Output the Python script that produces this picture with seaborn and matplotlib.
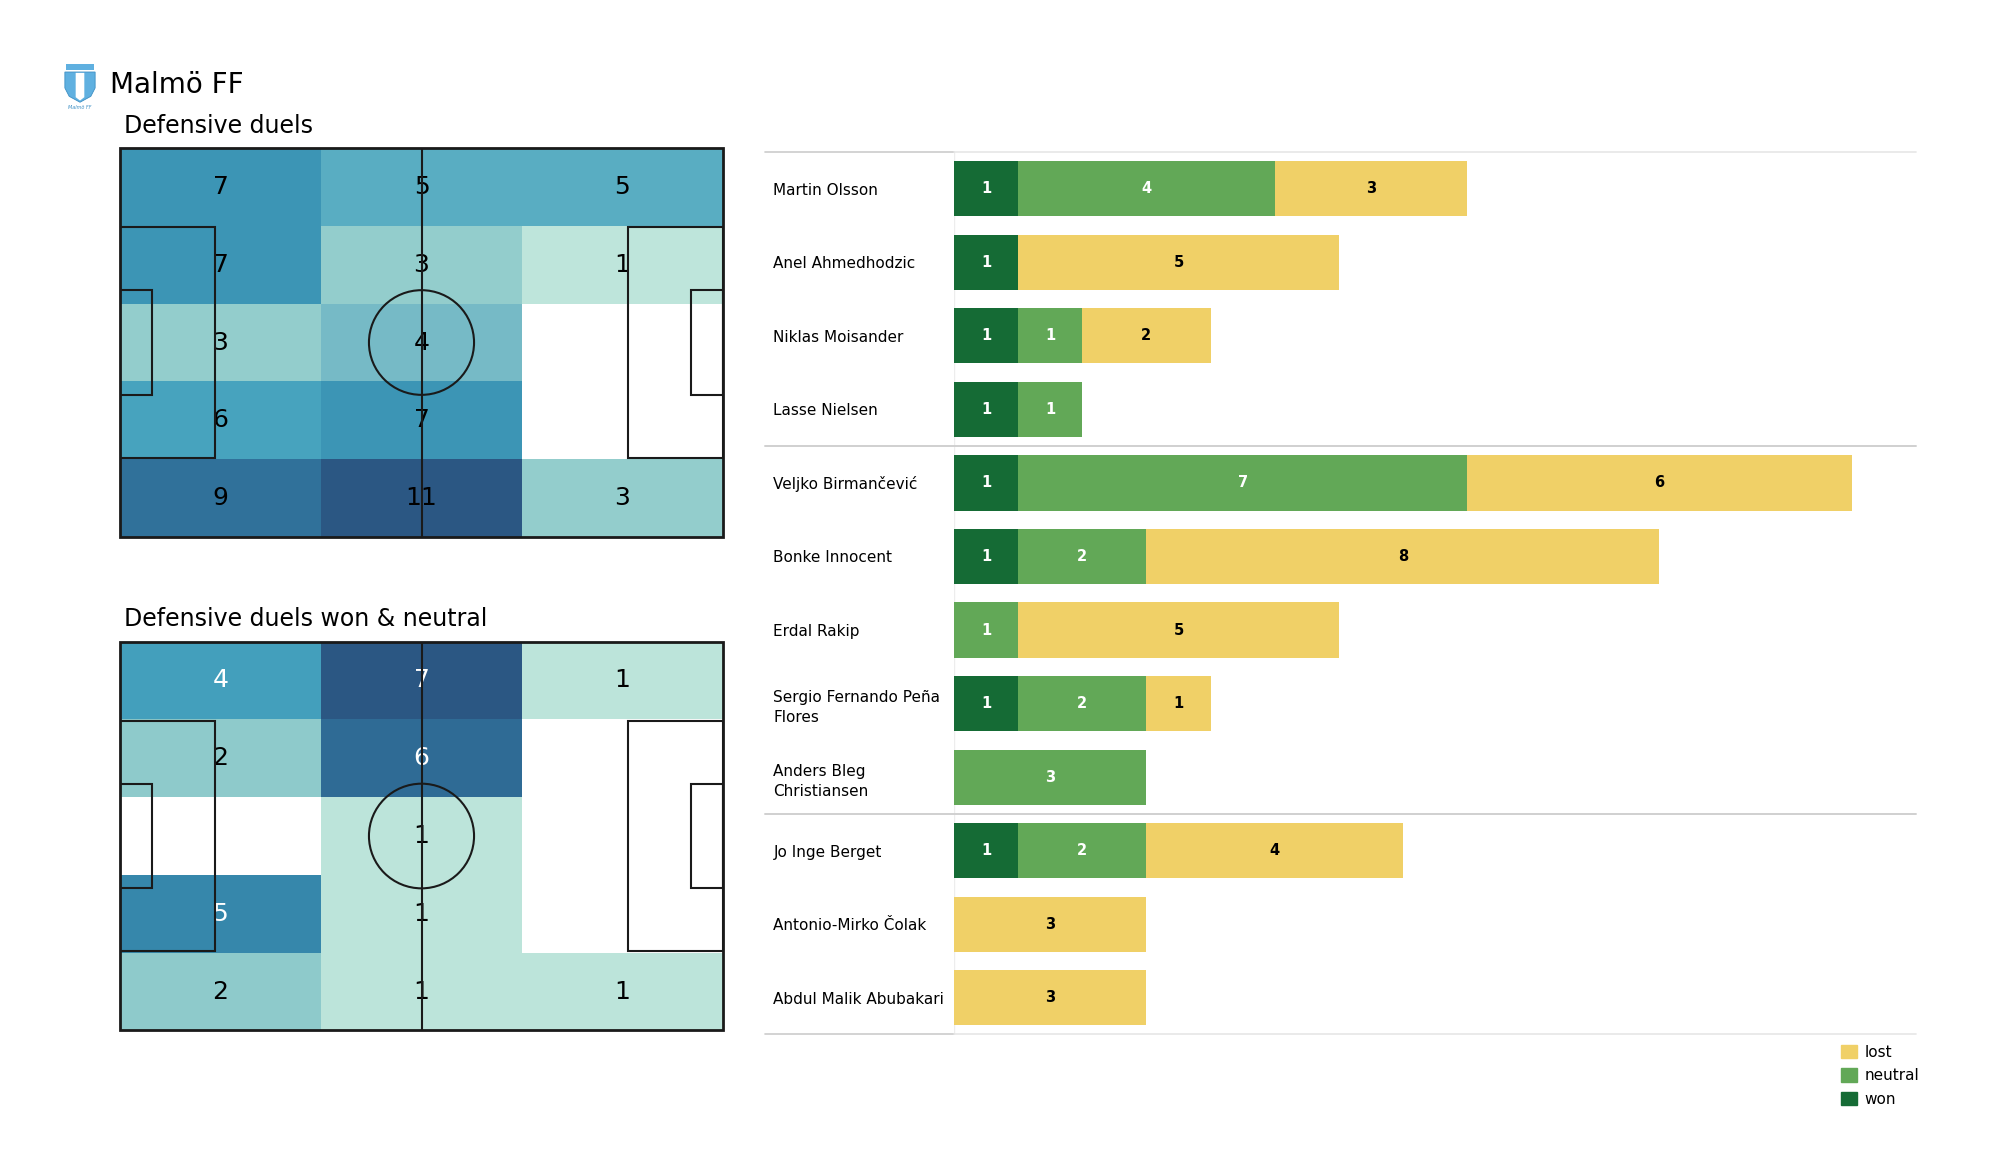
import numpy as np
import pandas as pd
import seaborn as sns
import matplotlib.pyplot as plt
from matplotlib.colors import LinearSegmentedColormap
from matplotlib.patches import Rectangle, Ellipse, Polygon, Patch

sns.set_style("white")
plt.rcParams['font.family'] = ['DejaVu Sans']
plt.rcParams['text.color'] = 'black'
plt.rcParams['ytick.color'] = 'black'
plt.rcParams['axes.labelcolor'] = 'black'

team = "Malmö FF"

# zones on the pitch, rows top -> bottom, columns own third -> final third
duels = [[7, 5, 5],
         [7, 3, 1],
         [3, 4, 0],
         [6, 7, 0],
         [9, 11, 3]]
duels_won_neutral = [[4, 7, 1],
                     [2, 6, 0],
                     [0, 1, 0],
                     [5, 1, 0],
                     [2, 1, 1]]

players = ["Martin Olsson", "Anel Ahmedhodzic", "Niklas Moisander", "Lasse Nielsen",
           "Veljko Birmančević", "Bonke Innocent", "Erdal Rakip",
           "Sergio Fernando Peña\nFlores", "Anders Bleg\nChristiansen",
           "Jo Inge Berget", "Antonio-Mirko Čolak", "Abdul Malik Abubakari"]
won = [1, 1, 1, 1, 1, 1, 0, 1, 0, 1, 0, 0]
neutral = [4, 0, 1, 1, 7, 2, 1, 2, 3, 2, 0, 0]
lost = [3, 5, 2, 0, 6, 8, 5, 1, 0, 4, 3, 3]
group_sizes = [4, 5, 3]   # defenders, midfielders, forwards

won_c = "#156b35"
neutral_c = "#62a857"
lost_c = "#f0d067"

cmap = LinearSegmentedColormap.from_list("zones", [
    (0.0, "#c2e7dd"), (0.14, "#bce4da"), (0.28, "#90cbcb"), (0.36, "#78bbc6"),
    (0.45, "#5aaec2"), (0.56, "#44a1bd"), (0.67, "#3890b2"), (0.82, "#30719a"),
    (1.0, "#2b5783")])

fig = plt.figure(figsize=(20, 11.75), dpi=100)


def draw_pitch(ax):
    L, W = 105, 68
    sx, sy = 3 / L, 5 / W
    c = "#1a1a1a"
    ax.add_patch(Rectangle((0, 0), 3, 5, fill=False, ec=c, lw=2, clip_on=False, zorder=5))
    ax.plot([1.5, 1.5], [0, 5], color=c, lw=1.5, zorder=5)
    ax.add_patch(Ellipse((1.5, 2.5), 2 * 9.15 * sx, 2 * 9.15 * sy, fill=False, ec=c, lw=1.5, zorder=5))
    for x0, d in [(0, 1), (L, -1)]:
        ax.add_patch(Rectangle((x0 * sx, (W / 2 - 20.16) * sy), d * 16.5 * sx, 40.32 * sy,
                               fill=False, ec=c, lw=1.5, zorder=5))
        ax.add_patch(Rectangle((x0 * sx, (W / 2 - 9.16) * sy), d * 5.5 * sx, 18.32 * sy,
                               fill=False, ec=c, lw=1.5, zorder=5))
    for s in ax.spines.values():
        s.set_visible(False)


def zone_map(ax, grid, title, white_from=None):
    arr = np.array(grid)
    sns.heatmap(arr, ax=ax, cmap=cmap, vmin=0, vmax=arr.max(), mask=arr == 0,
                annot=True, fmt="d", cbar=False, xticklabels=False, yticklabels=False,
                annot_kws={"fontsize": 18, "color": "black"}, linewidths=0)
    if white_from is not None:
        for t in ax.texts:
            if int(t.get_text()) >= white_from:
                t.set_color("white")
    draw_pitch(ax)
    ax.set_title(title, loc="left", fontsize=17, pad=11, x=0.006)


ax1 = fig.add_axes([0.06, 0.543, 0.3015, 0.331])
zone_map(ax1, duels, "Defensive duels")
ax2 = fig.add_axes([0.06, 0.123, 0.3015, 0.331])
zone_map(ax2, duels_won_neutral, "Defensive duels won & neutral", white_from=4)

# team header with a simple crest
fig.text(0.055, 0.928, team, fontsize=20, va="center")
lax = fig.add_axes([0.031, 0.903, 0.018, 0.05])
lax.set_xlim(0, 1)
lax.set_ylim(0, 1.4)
lax.axis("off")
lax.add_patch(Polygon([[0.08, 1.0], [0.92, 1.0], [0.92, 0.62], [0.8, 0.42], [0.5, 0.28],
                       [0.2, 0.42], [0.08, 0.62]], closed=True, fc="#5fb0e0", ec="#3d8fc4", lw=0.6))
lax.add_patch(Polygon([[0.38, 0.98], [0.62, 0.98], [0.62, 0.4], [0.5, 0.32], [0.38, 0.4]],
                      closed=True, fc="white", ec="none"))
lax.add_patch(Rectangle((0.1, 1.04), 0.8, 0.16, fc="#5fb0e0", ec="none"))
lax.text(0.5, 0.16, "Malmö FF", fontsize=3.5, color="#3d8fc4", ha="center", va="center", style="italic")

# stacked bars
df = pd.DataFrame({"player": players, "won": won, "neutral": neutral, "lost": lost})
df["won_neutral"] = df["won"] + df["neutral"]
df["total"] = df["won_neutral"] + df["lost"]

bx = fig.add_axes([0.477, 0.1196, 0.481, 0.751])
for col, c in [("total", lost_c), ("won_neutral", neutral_c), ("won", won_c)]:
    sns.barplot(data=df, y="player", x=col, order=players, orient="h", color=c,
                saturation=1, width=0.75, linewidth=0, ax=bx)

for i, r in df.iterrows():
    left = 0
    for val, tc in [(r["won"], "white"), (r["neutral"], "white"), (r["lost"], "black")]:
        if val > 0:
            bx.text(left + val / 2, i, str(val), ha="center", va="center",
                    fontsize=10.5, fontweight="bold", color=tc)
        left += val

bx.set_xlim(0, 15)
bx.set_ylim(len(players) - 0.5, -0.5)
bx.set_xlabel("")
bx.set_ylabel("")
bx.set_xticks([])
bx.set_yticks(range(len(players)))
bx.set_yticklabels(players, ha="left", fontsize=11, linespacing=1.45)
bx.tick_params(axis="y", length=0, pad=130)
for s in bx.spines.values():
    s.set_visible(False)
bx.axvline(0, color="#ededed", lw=1, zorder=0)

tr = bx.get_yaxis_transform()
edges = np.concatenate([[0], np.cumsum(group_sizes)]) - 0.5
for k, y in enumerate(edges):
    if k in (0, len(edges) - 1):
        bx.plot([-0.196, 0], [y, y], transform=tr, clip_on=False, color="#cccccc", lw=1.2)
        bx.plot([0, 1], [y, y], transform=tr, clip_on=False, color="#e6e6e6", lw=1.2)
    else:
        bx.plot([-0.196, 1], [y, y], transform=tr, clip_on=False, color="#d0d0d0", lw=1.4)

handles = [Patch(color=lost_c, label="lost"), Patch(color=neutral_c, label="neutral"),
           Patch(color=won_c, label="won")]
fig.legend(handles=handles, loc="upper right", bbox_to_anchor=(0.9595, 0.111), frameon=False,
           fontsize=11, handlelength=1.0, handleheight=1.0, handletextpad=0.5,
           labelspacing=0.55, borderpad=0, borderaxespad=0)

fig.savefig("out.png", dpi=100)
